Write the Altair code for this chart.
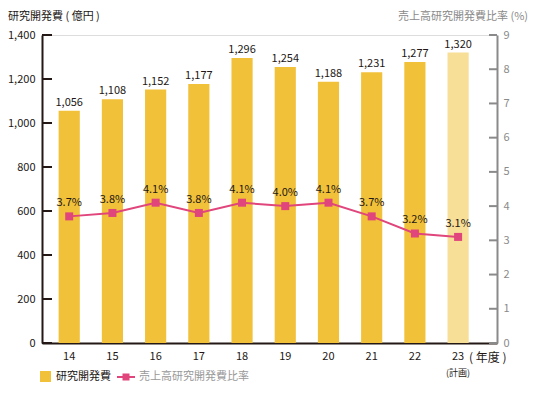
import altair as alt
import pandas as pd

years = ["14", "15", "16", "17", "18", "19", "20", "21", "22", "23"]
rd_cost = [1056, 1108, 1152, 1177, 1296, 1254, 1188, 1231, 1277, 1320]
rd_ratio = [3.7, 3.8, 4.1, 3.8, 4.1, 4.0, 4.1, 3.7, 3.2, 3.1]
planned = [False, False, False, False, False, False, False, False, False, True]
left_ticks = [0, 200, 400, 600, 800, 1000, 1200, 1400]
right_ticks = [0, 1, 2, 3, 4, 5, 6, 7, 8, 9]

FONT = "Noto Sans CJK JP"
GOLD = "#f2c13a"
LIGHT = "#f8df98"
PINK = "#e0457b"
DARK = "#231815"
GRAY = "#8a8a8a"

W, H = 455, 308

df = pd.DataFrame({
    "year": years,
    "cost": rd_cost,
    "ratio": rd_ratio,
    "plan": ["計画" if p else "実績" for p in planned],
})
df["cost_label"] = [f"{v:,}" for v in rd_cost]
df["ratio_label"] = [f"{v:.1f}%" for v in rd_ratio]

xscale = alt.Scale(paddingInner=0.51, paddingOuter=0.52, align=0.37)
xaxis = alt.Axis(title=None, labelAngle=0, ticks=False, labelPadding=7,
                 labelFontSize=11, labelColor=DARK, labelFont=FONT,
                 domainColor=DARK, domainWidth=2, grid=False)
x_enc = alt.X("year:N", sort=years, scale=xscale, axis=xaxis)

lscale = alt.Scale(domain=[0, 1400], nice=False, zero=True)
rscale = alt.Scale(domain=[0, 9], nice=False, zero=True)

base = alt.Chart(df)

bars = base.mark_bar().encode(
    x=x_enc,
    y=alt.Y("cost:Q", scale=lscale,
            axis=alt.Axis(title=None, orient="left", values=left_ticks, ticks=False,
                          grid=False, labelPadding=7, labelFontSize=11, labelColor=DARK,
                          labelFont=FONT, domainColor=DARK, domainWidth=2)),
    color=alt.Color("plan:N", scale=alt.Scale(domain=["実績", "計画"], range=[GOLD, LIGHT]),
                    legend=None),
)

bar_text = base.mark_text(baseline="bottom", dy=-3, fontSize=11, font=FONT, color=DARK).encode(
    x=x_enc,
    y=alt.Y("cost:Q", scale=lscale, axis=None),
    text="cost_label:N",
)

line = base.mark_line(color=PINK, strokeWidth=2).encode(
    x=x_enc,
    y=alt.Y("ratio:Q", scale=rscale,
            axis=alt.Axis(title=None, orient="right", values=right_ticks, ticks=False,
                          grid=False, labelPadding=6, labelFontSize=11, labelColor=GRAY,
                          labelFont=FONT, domainColor=GRAY, domainWidth=2)),
)

pts = base.mark_square(color=PINK, size=64, opacity=1).encode(
    x=x_enc,
    y=alt.Y("ratio:Q", scale=rscale, axis=None),
)

pt_text = base.mark_text(dy=-13, fontSize=11, font=FONT, color=DARK).encode(
    x=x_enc,
    y=alt.Y("ratio:Q", scale=rscale, axis=None),
    text="ratio_label:N",
)

lt = alt.Chart(pd.DataFrame({"v": left_ticks})).mark_rule(color=DARK, strokeWidth=2).encode(
    x=alt.value(0), x2=alt.value(10),
    y=alt.Y("v:Q", scale=lscale, axis=None),
)
rt = alt.Chart(pd.DataFrame({"v": right_ticks})).mark_rule(color=GRAY, strokeWidth=2).encode(
    x=alt.value(W - 8), x2=alt.value(W),
    y=alt.Y("v:Q", scale=rscale, axis=None),
)

# unit notes
notes_df = pd.DataFrame({"year": ["23"], "a": ["( 年度 )"], "b": ["(計画)"]})
nendo = alt.Chart(notes_df).mark_text(align="left", dx=11, fontSize=12, font=FONT, color=DARK).encode(
    x=x_enc, y=alt.value(H + 15), text="a:N")
keikaku = alt.Chart(notes_df).mark_text(fontSize=9, font=FONT, color=DARK).encode(
    x=x_enc, y=alt.value(H + 30), text="b:N")

title_df = pd.DataFrame({"l": ["研究開発費 ( 億円 )"], "r": ["売上高研究開発費比率 (%)"]})
t_left = alt.Chart(title_df).mark_text(align="left", baseline="middle", fontSize=11, font=FONT, color=DARK).encode(
    x=alt.value(-34), y=alt.value(-18), text="l:N")
t_right = alt.Chart(title_df).mark_text(align="right", baseline="middle", fontSize=11, font=FONT, color=GRAY).encode(
    x=alt.value(W + 31), y=alt.value(-18), text="r:N")

# legend
leg_df = pd.DataFrame({"a": ["研究開発費"], "b": ["売上高研究開発費比率"]})
leg_sq = alt.Chart(leg_df).mark_rect(color=GOLD).encode(
    x=alt.value(-2), x2=alt.value(9), y=alt.value(H + 28), y2=alt.value(H + 39))
leg_t1 = alt.Chart(leg_df).mark_text(align="left", fontSize=11, font=FONT, color=DARK).encode(
    x=alt.value(14), y=alt.value(H + 34), text="a:N")
leg_line = alt.Chart(leg_df).mark_rule(color=PINK, strokeWidth=2).encode(
    x=alt.value(75), x2=alt.value(93), y=alt.value(H + 34))
leg_pt = alt.Chart(leg_df).mark_square(color=PINK, size=49, opacity=1).encode(
    x=alt.value(84), y=alt.value(H + 34))
leg_t2 = alt.Chart(leg_df).mark_text(align="left", fontSize=11, font=FONT, color="#999999").encode(
    x=alt.value(97), y=alt.value(H + 34), text="b:N")

chart = alt.layer(
    bars, bar_text, lt, line, pts, pt_text, rt, nendo, keikaku,
    t_left, t_right, leg_sq, leg_t1, leg_line, leg_pt, leg_t2,
).resolve_scale(y="independent").properties(
    width=W, height=H,
    autosize=alt.AutoSizeParams(type="none"),
    padding={"left": 34, "top": 27, "right": 31, "bottom": 46},
).configure_view(strokeWidth=0).configure(font=FONT)

chart.save("out.html", embed_options={"renderer": "svg", "actions": False})
